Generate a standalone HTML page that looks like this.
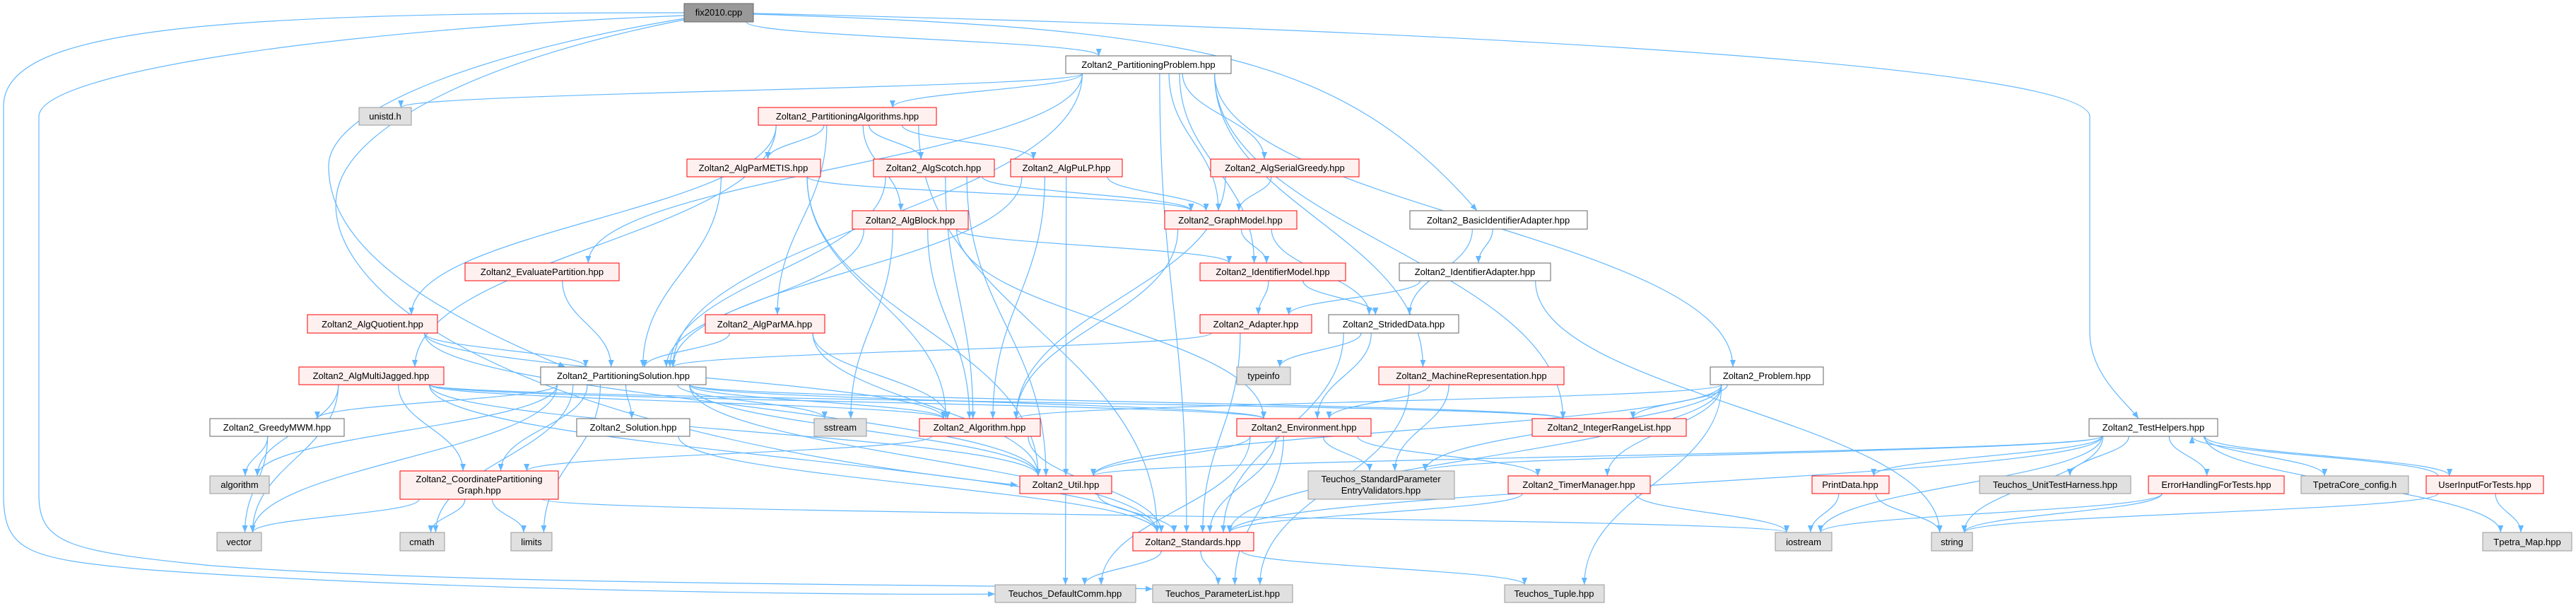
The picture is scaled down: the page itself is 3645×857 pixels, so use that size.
<!DOCTYPE html>
<html><head><meta charset="utf-8">
<style>
html,body{margin:0;padding:0;background:#fff;}
svg{display:block;}
text{font-family:"Liberation Sans","DejaVu Sans",sans-serif;font-size:13px;fill:#000;}
</style></head>
<body>
<svg id="g" width="3645" height="857" viewBox="0 0 3645 857" xmlns="http://www.w3.org/2000/svg">
<defs>
<marker id="ah" viewBox="0 0 10 10" refX="10" refY="5" markerWidth="10" markerHeight="10" markerUnits="userSpaceOnUse" orient="auto">
<path d="M0,1 L10,5 L0,9 z" fill="#63b8ff"/>
</marker>
</defs>
<g id="edges" fill="none" stroke="#63b8ff" stroke-width="1.2"></g>
<g id="nodes">
<rect x="968" y="5" width="98" height="26" fill="#999" stroke="#666"/><text x="1017" y="22" text-anchor="middle">fix2010.cpp</text>
<rect x="1508" y="79" width="234" height="25" fill="#fff" stroke="#666"/><text x="1625" y="96" text-anchor="middle">Zoltan2_PartitioningProblem.hpp</text>
<rect x="508" y="152" width="74" height="25" fill="#e0e0e0" stroke="#999"/><text x="545" y="169" text-anchor="middle">unistd.h</text>
<rect x="1073" y="152" width="252" height="25" fill="#fff0f0" stroke="#f00"/><text x="1199" y="169" text-anchor="middle">Zoltan2_PartitioningAlgorithms.hpp</text>
<rect x="972" y="225" width="189" height="25" fill="#fff0f0" stroke="#f00"/><text x="1066" y="242" text-anchor="middle">Zoltan2_AlgParMETIS.hpp</text>
<rect x="1236" y="225" width="171" height="25" fill="#fff0f0" stroke="#f00"/><text x="1321" y="242" text-anchor="middle">Zoltan2_AlgScotch.hpp</text>
<rect x="1430" y="225" width="158" height="25" fill="#fff0f0" stroke="#f00"/><text x="1509" y="242" text-anchor="middle">Zoltan2_AlgPuLP.hpp</text>
<rect x="1713" y="225" width="210" height="25" fill="#fff0f0" stroke="#f00"/><text x="1818" y="242" text-anchor="middle">Zoltan2_AlgSerialGreedy.hpp</text>
<rect x="1206" y="298" width="164" height="26" fill="#fff0f0" stroke="#f00"/><text x="1288" y="316" text-anchor="middle">Zoltan2_AlgBlock.hpp</text>
<rect x="1648" y="298" width="187" height="26" fill="#fff0f0" stroke="#f00"/><text x="1741" y="316" text-anchor="middle">Zoltan2_GraphModel.hpp</text>
<rect x="1995" y="298" width="251" height="26" fill="#fff" stroke="#666"/><text x="2120" y="316" text-anchor="middle">Zoltan2_BasicIdentifierAdapter.hpp</text>
<rect x="658" y="372" width="218" height="25" fill="#fff0f0" stroke="#f00"/><text x="767" y="389" text-anchor="middle">Zoltan2_EvaluatePartition.hpp</text>
<rect x="1698" y="372" width="206" height="25" fill="#fff0f0" stroke="#f00"/><text x="1801" y="389" text-anchor="middle">Zoltan2_IdentifierModel.hpp</text>
<rect x="1980" y="372" width="214" height="25" fill="#fff" stroke="#666"/><text x="2087" y="389" text-anchor="middle">Zoltan2_IdentifierAdapter.hpp</text>
<rect x="435" y="445" width="184" height="26" fill="#fff0f0" stroke="#f00"/><text x="527" y="463" text-anchor="middle">Zoltan2_AlgQuotient.hpp</text>
<rect x="998" y="445" width="169" height="26" fill="#fff0f0" stroke="#f00"/><text x="1082" y="463" text-anchor="middle">Zoltan2_AlgParMA.hpp</text>
<rect x="1698" y="445" width="158" height="26" fill="#fff0f0" stroke="#f00"/><text x="1777" y="463" text-anchor="middle">Zoltan2_Adapter.hpp</text>
<rect x="1880" y="445" width="184" height="26" fill="#fff" stroke="#666"/><text x="1972" y="463" text-anchor="middle">Zoltan2_StridedData.hpp</text>
<rect x="423" y="519" width="205" height="25" fill="#fff0f0" stroke="#f00"/><text x="525" y="536" text-anchor="middle">Zoltan2_AlgMultiJagged.hpp</text>
<rect x="765" y="519" width="234" height="25" fill="#fff" stroke="#666"/><text x="882" y="536" text-anchor="middle">Zoltan2_PartitioningSolution.hpp</text>
<rect x="1750" y="519" width="76" height="25" fill="#e0e0e0" stroke="#999"/><text x="1788" y="536" text-anchor="middle">typeinfo</text>
<rect x="1951" y="519" width="262" height="25" fill="#fff0f0" stroke="#f00"/><text x="2082" y="536" text-anchor="middle">Zoltan2_MachineRepresentation.hpp</text>
<rect x="2420" y="519" width="160" height="25" fill="#fff" stroke="#666"/><text x="2500" y="536" text-anchor="middle">Zoltan2_Problem.hpp</text>
<rect x="297" y="592" width="190" height="25" fill="#fff" stroke="#666"/><text x="392" y="609" text-anchor="middle">Zoltan2_GreedyMWM.hpp</text>
<rect x="816" y="592" width="160" height="25" fill="#fff" stroke="#666"/><text x="896" y="609" text-anchor="middle">Zoltan2_Solution.hpp</text>
<rect x="1152" y="592" width="74" height="25" fill="#e0e0e0" stroke="#999"/><text x="1189" y="609" text-anchor="middle">sstream</text>
<rect x="1301" y="592" width="171" height="25" fill="#fff0f0" stroke="#f00"/><text x="1386" y="609" text-anchor="middle">Zoltan2_Algorithm.hpp</text>
<rect x="1750" y="592" width="190" height="25" fill="#fff0f0" stroke="#f00"/><text x="1845" y="609" text-anchor="middle">Zoltan2_Environment.hpp</text>
<rect x="2168" y="592" width="218" height="25" fill="#fff0f0" stroke="#f00"/><text x="2277" y="609" text-anchor="middle">Zoltan2_IntegerRangeList.hpp</text>
<rect x="2956" y="592" width="182" height="25" fill="#fff" stroke="#666"/><text x="3047" y="609" text-anchor="middle">Zoltan2_TestHelpers.hpp</text>
<rect x="297" y="673" width="84" height="25" fill="#e0e0e0" stroke="#999"/><text x="339" y="690" text-anchor="middle">algorithm</text>
<rect x="566" y="666" width="224" height="40" fill="#fff0f0" stroke="#f00"/><text x="678" y="682" text-anchor="middle">Zoltan2_CoordinatePartitioning</text><text x="678" y="698" text-anchor="middle">Graph.hpp</text>
<rect x="1443" y="673" width="130" height="25" fill="#fff0f0" stroke="#f00"/><text x="1508" y="690" text-anchor="middle">Zoltan2_Util.hpp</text>
<rect x="1851" y="666" width="207" height="40" fill="#e0e0e0" stroke="#999"/><text x="1954" y="682" text-anchor="middle">Teuchos_StandardParameter</text><text x="1954" y="698" text-anchor="middle">EntryValidators.hpp</text>
<rect x="2134" y="673" width="201" height="25" fill="#fff0f0" stroke="#f00"/><text x="2234" y="690" text-anchor="middle">Zoltan2_TimerManager.hpp</text>
<rect x="2564" y="673" width="109" height="25" fill="#fff0f0" stroke="#f00"/><text x="2618" y="690" text-anchor="middle">PrintData.hpp</text>
<rect x="2801" y="673" width="214" height="25" fill="#e0e0e0" stroke="#999"/><text x="2908" y="690" text-anchor="middle">Teuchos_UnitTestHarness.hpp</text>
<rect x="3040" y="673" width="192" height="25" fill="#fff0f0" stroke="#f00"/><text x="3136" y="690" text-anchor="middle">ErrorHandlingForTests.hpp</text>
<rect x="3256" y="673" width="152" height="25" fill="#e0e0e0" stroke="#999"/><text x="3332" y="690" text-anchor="middle">TpetraCore_config.h</text>
<rect x="3433" y="673" width="166" height="25" fill="#fff0f0" stroke="#f00"/><text x="3516" y="690" text-anchor="middle">UserInputForTests.hpp</text>
<rect x="307" y="753" width="63" height="26" fill="#e0e0e0" stroke="#999"/><text x="338" y="771" text-anchor="middle">vector</text>
<rect x="566" y="753" width="63" height="26" fill="#e0e0e0" stroke="#999"/><text x="597" y="771" text-anchor="middle">cmath</text>
<rect x="723" y="753" width="58" height="26" fill="#e0e0e0" stroke="#999"/><text x="752" y="771" text-anchor="middle">limits</text>
<rect x="1603" y="753" width="171" height="26" fill="#fff0f0" stroke="#f00"/><text x="1688" y="771" text-anchor="middle">Zoltan2_Standards.hpp</text>
<rect x="2512" y="753" width="80" height="26" fill="#e0e0e0" stroke="#999"/><text x="2552" y="771" text-anchor="middle">iostream</text>
<rect x="2733" y="753" width="58" height="26" fill="#e0e0e0" stroke="#999"/><text x="2762" y="771" text-anchor="middle">string</text>
<rect x="3513" y="753" width="126" height="26" fill="#e0e0e0" stroke="#999"/><text x="3576" y="771" text-anchor="middle">Tpetra_Map.hpp</text>
<rect x="1408" y="827" width="199" height="25" fill="#e0e0e0" stroke="#999"/><text x="1507" y="844" text-anchor="middle">Teuchos_DefaultComm.hpp</text>
<rect x="1631" y="827" width="198" height="25" fill="#e0e0e0" stroke="#999"/><text x="1730" y="844" text-anchor="middle">Teuchos_ParameterList.hpp</text>
<rect x="2129" y="827" width="141" height="25" fill="#e0e0e0" stroke="#999"/><text x="2199" y="844" text-anchor="middle">Teuchos_Tuple.hpp</text>
</g>
</svg>
<script>
var N={
fix:[968,1066,5,31],PP:[1508,1742,79,104],uni:[508,582,152,177],PA:[1073,1325,152,177],
PM:[972,1161,225,250],SC:[1236,1407,225,250],PU:[1430,1588,225,250],SG:[1713,1923,225,250],
BL:[1206,1370,298,324],GM:[1648,1835,298,324],BIA:[1995,2246,298,324],EP:[658,876,372,397],
IM:[1698,1904,372,397],IA:[1980,2194,372,397],AQ:[435,619,445,471],MA:[998,1167,445,471],
AD:[1698,1856,445,471],SD:[1880,2064,445,471],MJ:[423,628,519,544],PS:[765,999,519,544],
TI:[1750,1826,519,544],MR:[1951,2213,519,544],PR:[2420,2580,519,544],GW:[297,487,592,617],
SO:[816,976,592,617],SS:[1152,1226,592,617],AL:[1301,1472,592,617],EN:[1750,1940,592,617],
IR:[2168,2386,592,617],TH:[2956,3138,592,617],ALG:[297,381,673,698],CG:[566,790,666,706],
UT:[1443,1573,673,698],SP:[1851,2058,666,706],TM:[2134,2335,673,698],PD:[2564,2673,673,698],
UH:[2801,3015,673,698],EH:[3040,3232,673,698],TC:[3256,3408,673,698],UI:[3433,3599,673,698],
VE:[307,370,753,779],CM:[566,629,753,779],LI:[723,781,753,779],ST:[1603,1774,753,779],
IO:[2512,2592,753,779],STR:[2733,2791,753,779],TMAP:[3513,3639,753,779],DC:[1408,1607,827,852],
PL:[1631,1829,827,852],TU:[2129,2270,827,852]};
var E=[
"fix PP","PP uni","PP PA","PP EP","PP PS","PP GM","PP IM","PP SG","PP MR","PP PR","PP IR","PP ST",
"PA PM","PA SC","PA PU","PA BL","PA AQ","PA MJ","PA MA","PA ST",
"PM GM","PM PS","PM AL","PM UT","SC GM","SC PS","SC AL","SC UT","PU GM","PU PS","PU AL","PU UT",
"SG GM","SG AL","BL IM","BL PS","BL AL","BL SS","BL EN","GM SD","GM IM","GM AL",
"BIA IA","BIA SD","IA AD","IA STR","IM AD","IM SD","AD PS","AD ST","SD TI","SD EN","SD ST",
"EP PS","AQ PS","AQ AL","AQ UT","MA PS","MA AL","MA UT",
"MR EN","MR SP","MR PL","PR AL","PR IR","PR TM","PR ST","PR TU","PR SP","PR UT",
"MJ ALG","MJ VE","MJ CG","MJ UT","MJ AL","MJ ST","MJ EN","MJ IR",
"PS AL","PS SS","PS UT","PS GW","PS SO","PS CG","PS ALG","PS VE","PS CM","PS LI","PS IR","PS EN","PS ST",
"GW ALG","GW VE","CG VE","CG CM","CG LI","CG IO","SO ST","AL CG","AL ST",
"EN UT","EN DC","EN PL","EN SP","EN TM","EN ST","UT DC","UT ST","ST DC","ST PL","ST TU","TM IO","TM ST",
"TH UT","TH SP","TH ST","TH PD","TH UH","TH EH","TH TC","TH UI","TH TMAP","TH IO","TH STR",
"UI TH","UI TMAP","UI STR","EH IO","EH STR","PD IO","PD STR"];
var g=document.getElementById('edges'),ns="http://www.w3.org/2000/svg";
function add(d){var p=document.createElementNS(ns,'path');p.setAttribute('d',d);p.setAttribute('marker-end','url(#ah)');g.appendChild(p);}
E.forEach(function(s){var a=s.split(' '),S=N[a[0]],T=N[a[1]];
var scx=(S[0]+S[1])/2,tcx=(T[0]+T[1])/2;
var sw=(S[1]-S[0])/2,tw=(T[1]-T[0])/2;
var sx=scx+Math.max(-sw*0.8,Math.min(sw*0.8,(tcx-scx)*0.25));
var tx=tcx+Math.max(-tw*0.6,Math.min(tw*0.6,(scx-tcx)*0.15));
var sy,ty;
if(T[2]>S[3]){sy=S[3];ty=T[2];}
else if(T[3]<S[2]){sy=S[2];ty=T[3];}
else{sy=(S[2]+S[3])/2;ty=(T[2]+T[3])/2;sx=tcx>scx?S[1]:S[0];tx=tcx>scx?T[0]:T[1];
add("M"+sx+","+sy+" L"+tx+","+ty);return;}
var dy=ty-sy;
add("M"+sx+","+sy+" C"+sx+","+(sy+dy*0.45)+" "+tx+","+(ty-dy*0.45)+" "+tx+","+ty);});
add("M968,18 C300,18 5,40 5,150 L5,700 C5,780 40,790 200,805 C600,835 1200,842 1408,840");
add("M968,22 C500,40 55,100 55,165 L55,700 C55,770 100,780 300,800 C700,830 1400,825 1631,833");
add("M975,25 C700,70 465,150 465,235 C465,330 560,420 800,519");
add("M1066,20 C1700,40 1900,80 2090,298");
add("M1066,19 C2000,40 2957,90 2957,165 L2957,470 C2957,530 3010,570 3026,592");
add("M968,28 C700,80 510,170 480,260 C440,380 640,600 1440,686");
</script>
</body></html>
